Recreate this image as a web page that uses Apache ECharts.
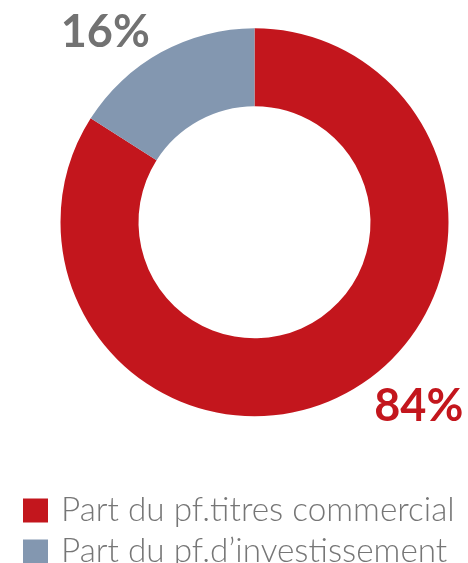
<!DOCTYPE html>
<html>
<head>
<meta charset="utf-8">
<script src="https://cdn.jsdelivr.net/npm/echarts@6/dist/echarts.min.js"></script>
<style>
html,body{margin:0;padding:0;background:#fff;}
#chart{width:468px;height:563px;}
</style>
</head>
<body>
<div id="chart"></div>
<script>
const categories = ['Part du pf.titres commercial', 'Part du pf.d\u2019investissement'];
const values = [84, 16];
const colors = ['#C3161D', '#8397B0'];
const labelColors = ['#C3161D', '#727272'];

const legendBase = {
  orient: 'vertical',
  left: 23,
  padding: 0,
  itemWidth: 25,
  itemHeight: 24,
  icon: 'rect',
  textStyle: {fontFamily: 'Lato', fontWeight: 300, fontSize: 33.3, lineHeight: 24, color: '#767676', padding: [0, 0, 0, 8]}
};

const chart = echarts.init(document.getElementById('chart'), null, {renderer: 'canvas'});
chart.setOption({
  animation: false,
  backgroundColor: '#fff',
  legend: [
    Object.assign({}, legendBase, {top: 494, data: [categories[0]]}),
    Object.assign({}, legendBase, {top: 535, data: [categories[1]]})
  ],
  series: [{
    type: 'pie',
    center: [254.5, 222.3],
    radius: [116, 194],
    startAngle: 90,
    clockwise: true,
    silent: true,
    data: categories.map((c, i) => ({
      name: c, value: values[i],
      itemStyle: {color: colors[i]},
      label: {color: labelColors[i]}
    })),
    label: {
      show: true,
      position: 'outside',
      formatter: '{c}%',
      fontFamily: 'Lato',
      fontWeight: 'bold',
      fontSize: 45,
      overflow: 'none'
    },
    labelLine: {show: false},
    labelLayout: function (p) {
      return p.dataIndex === 1 ? {dx: 31, dy: -7} : {dx: -16, dy: 1};
    }
  }]
});
</script>
</body>
</html>
